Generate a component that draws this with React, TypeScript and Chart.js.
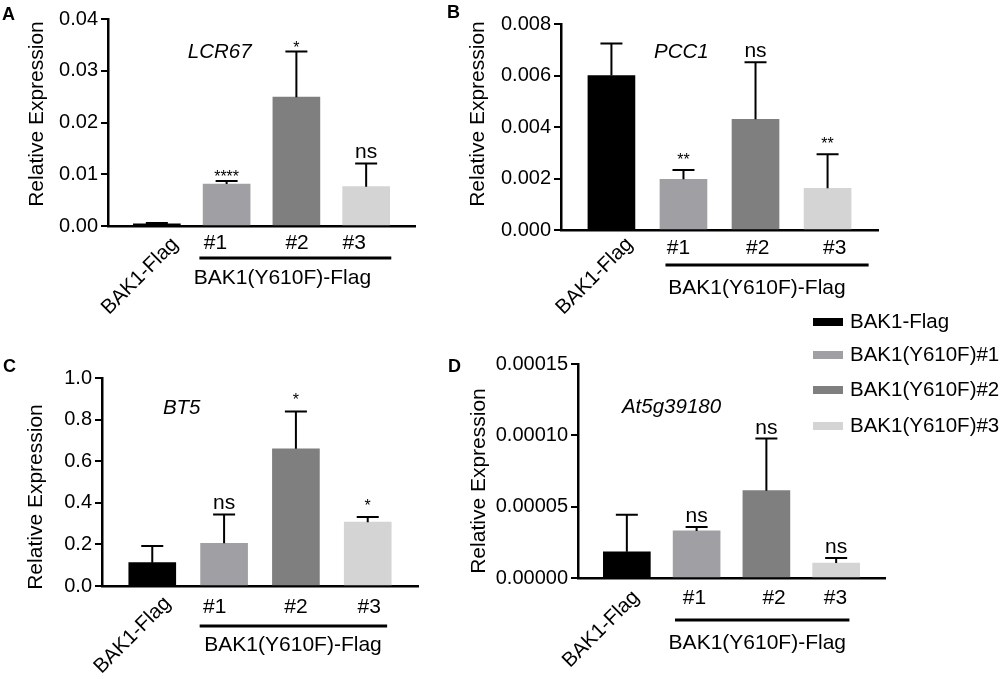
import React, { useEffect, useRef } from 'react';
import { Chart, registerables } from 'chart.js';

Chart.register(...registerables);

const FONT = "'Liberation Sans', Arial, Helvetica, sans-serif";

const categories = ['BAK1-Flag', '#1', '#2', '#3'];
const legendLabels = ['BAK1-Flag', 'BAK1(Y610F)#1', 'BAK1(Y610F)#2', 'BAK1(Y610F)#3'];
const groupLabel = 'BAK1(Y610F)-Flag';
const barColors = ['#000000', '#a09fa4', '#7f7f7f', '#d4d4d4'];

// A - LCR67
const lcr67Mean = [0.0004, 0.0081, 0.0249, 0.0076];
const lcr67Sd = [0.0002, 0.0006, 0.0088, 0.0045];
const lcr67Sig = ['', '****', '*', 'ns'];

// B - PCC1
const pcc1Mean = [0.006, 0.00197, 0.0043, 0.00162];
const pcc1Sd = [0.00124, 0.00036, 0.00221, 0.00132];
const pcc1Sig = ['', '**', 'ns', '**'];

// C - BT5
const bt5Mean = [0.112, 0.205, 0.66, 0.307];
const bt5Sd = [0.08, 0.139, 0.179, 0.025];
const bt5Sig = ['', 'ns', '*', '*'];

// D - At5g39180
const at5Mean = [0.0000184, 0.000033, 0.0000612, 0.0000105];
const at5Sd = [0.000026, 0.0000028, 0.0000365, 0.0000035];
const at5Sig = ['', 'ns', 'ns', 'ns'];

type Panel = {
    letter: string;
    gene: string;
    mean: number[];
    sd: number[];
    sig: string[];
    yMax: number;
    yStep: number;
    digits: number;
    box: { left: number; top: number; w: number; h: number };
    area: { l: number; r: number; t: number; b: number };
    genePos: [number, number];
    title: [number, number];
    letterPos: [number, number];
    numY: number;
    labelX: number[];
    lineY: number;
    line: [number, number];
    groupX: number;
    groupY: number;
    rot: [number, number];
    starLift: number;
    legend?: boolean;
};

const panels: Panel[] = [
    {
        letter: 'A', gene: 'LCR67', mean: lcr67Mean, sd: lcr67Sd, sig: lcr67Sig,
        yMax: 0.04, yStep: 0.01, digits: 2,
        box: { left: 0, top: 0, w: 440, h: 330 },
        area: { l: 108, r: 415, t: 19, b: 226 },
        genePos: [0.9, 0.0335], title: [37, 114], letterPos: [2, 20],
        numY: 17, labelX: [0.84, 2.01, 2.83], lineY: 32, line: [0.61, 3.36],
        groupX: 1.8, groupY: 52, rot: [11, 8], starLift: -1,
    },
    {
        letter: 'B', gene: 'PCC1', mean: pcc1Mean, sd: pcc1Sd, sig: pcc1Sig,
        yMax: 0.008, yStep: 0.002, digits: 3,
        box: { left: 440, top: 0, w: 560, h: 330 },
        area: { l: 121, r: 438, t: 24, b: 230 },
        genePos: [0.97, 0.0069], title: [38, 114], letterPos: [7, 18],
        numY: 18, labelX: [0.93, 2.03, 3.1], lineY: 35, line: [0.75, 3.57],
        groupX: 2.02, groupY: 58, rot: [11, 4], starLift: 5,
    },
    {
        letter: 'C', gene: 'BT5', mean: bt5Mean, sd: bt5Sd, sig: bt5Sig,
        yMax: 1.0, yStep: 0.2, digits: 1,
        box: { left: 0, top: 330, w: 440, h: 349 },
        area: { l: 102, r: 418, t: 48, b: 256 },
        genePos: [0.41, 0.854], title: [36, 167], letterPos: [3, 42],
        numY: 21, labelX: [0.87, 2.0, 3.02], lineY: 40, line: [0.66, 3.27],
        groupX: 1.96, groupY: 59, rot: [8, 7], starLift: 6,
    },
    {
        letter: 'D', gene: 'At5g39180', mean: at5Mean, sd: at5Sd, sig: at5Sig,
        yMax: 0.00015, yStep: 0.00005, digits: 5,
        box: { left: 440, top: 300, w: 560, h: 379 },
        area: { l: 138, r: 445, t: 64, b: 278 },
        genePos: [0.64, 0.00012], title: [39, 181], letterPos: [8, 72],
        numY: 20, labelX: [0.97, 2.11, 2.99], lineY: 42, line: [0.69, 3.19],
        groupX: 1.87, groupY: 65, rot: [2, 9], starLift: 5, legend: true,
    },
];

const overlay = (p: Panel) => ({
    id: 'overlay' + p.letter,
    afterDraw(chart: any) {
        const { ctx, chartArea } = chart;
        const xs = chart.scales.x;
        const ys = chart.scales.y;
        const base = chartArea.bottom;
        ctx.save();
        ctx.fillStyle = '#000';
        ctx.strokeStyle = '#000';

        // error bars + significance
        ctx.lineWidth = 2;
        p.mean.forEach((m, i) => {
            const cx = xs.getPixelForValue(i);
            const y0 = ys.getPixelForValue(m);
            const y1 = ys.getPixelForValue(m + p.sd[i]);
            ctx.beginPath();
            ctx.moveTo(cx, y0);
            ctx.lineTo(cx, y1);
            ctx.moveTo(cx - 11, y1);
            ctx.lineTo(cx + 11, y1);
            ctx.stroke();
            const s = p.sig[i];
            if (s) {
                const stars = s !== 'ns';
                ctx.font = `${stars ? 16 : 21}px ${FONT}`;
                ctx.textAlign = 'center';
                ctx.textBaseline = 'alphabetic';
                ctx.fillText(s, cx, y1 - (stars ? p.starLift : 5));
            }
        });

        // gene name
        ctx.font = `italic 20.5px ${FONT}`;
        ctx.textAlign = 'center';
        ctx.textBaseline = 'middle';
        ctx.fillText(p.gene, xs.getPixelForValue(p.genePos[0]), ys.getPixelForValue(p.genePos[1]));

        // x labels
        ctx.font = `20.5px ${FONT}`;
        ctx.save();
        ctx.translate(xs.getPixelForValue(0) + p.rot[0], base + p.rot[1]);
        ctx.rotate(-Math.PI / 4);
        ctx.textAlign = 'right';
        ctx.textBaseline = 'top';
        ctx.fillText(categories[0], 0, 0);
        ctx.restore();

        ctx.font = `21px ${FONT}`;
        ctx.textAlign = 'center';
        ctx.textBaseline = 'middle';
        for (let i = 1; i < categories.length; i++) {
            ctx.fillText(categories[i], xs.getPixelForValue(p.labelX[i - 1]), base + p.numY);
        }
        ctx.lineWidth = 3;
        ctx.beginPath();
        ctx.moveTo(xs.getPixelForValue(p.line[0]), base + p.lineY);
        ctx.lineTo(xs.getPixelForValue(p.line[1]), base + p.lineY);
        ctx.stroke();
        ctx.fillText(groupLabel, xs.getPixelForValue(p.groupX), base + p.groupY);

        // y title
        ctx.save();
        ctx.translate(p.title[0], p.title[1]);
        ctx.rotate(-Math.PI / 2);
        ctx.fillText('Relative Expression', 0, 0);
        ctx.restore();

        // panel letter
        ctx.font = `bold 18px ${FONT}`;
        ctx.textAlign = 'left';
        ctx.textBaseline = 'alphabetic';
        ctx.fillText(p.letter, p.letterPos[0], p.letterPos[1]);

        if (p.legend) {
            const rows = [22, 55, 90, 126];
            ctx.font = `20.5px ${FONT}`;
            ctx.textBaseline = 'middle';
            legendLabels.forEach((lab, i) => {
                ctx.fillStyle = barColors[i];
                ctx.fillRect(373, rows[i] - 4, 30, 8);
                ctx.fillStyle = '#000';
                ctx.fillText(lab, 410, rows[i]);
            });
        }
        ctx.restore();
    },
});

const BarPanel: React.FC<{ p: Panel }> = ({ p }) => {
    const canvasRef = useRef<HTMLCanvasElement>(null);

    useEffect(() => {
        if (!canvasRef.current) return;
        const { box, area } = p;
        const chart = new Chart(canvasRef.current, {
            type: 'bar',
            data: {
                datasets: [
                    {
                        data: p.mean.map((v, i) => ({ x: i, y: v })),
                        backgroundColor: barColors,
                        borderWidth: 0,
                        barThickness: 47,
                    },
                ],
            },
            options: {
                animation: false,
                responsive: false,
                layout: {
                    padding: { left: 0, top: area.t, right: box.w - area.r, bottom: box.h - area.b },
                },
                plugins: { legend: { display: false }, tooltip: { enabled: false } },
                scales: {
                    x: {
                        type: 'linear',
                        min: -0.7,
                        max: 3.7,
                        offset: false,
                        z: 1,
                        ticks: { display: false },
                        grid: { display: false },
                        border: { display: true, color: '#000', width: 2.5 },
                        afterFit: (s: any) => {
                            s.height = 0;
                        },
                    },
                    y: {
                        min: 0,
                        max: p.yMax,
                        z: 1,
                        ticks: {
                            stepSize: p.yStep,
                            color: '#000',
                            padding: 3,
                            font: { family: FONT, size: 20 },
                            callback: (v: any) => Number(v).toFixed(p.digits),
                        },
                        grid: { drawOnChartArea: false, color: '#000', lineWidth: 2, tickLength: 7 },
                        border: { display: true, color: '#000', width: 2.5 },
                        afterFit: (s: any) => {
                            s.width = area.l;
                        },
                    },
                },
            } as any,
            plugins: [overlay(p)],
        });
        return () => {
            chart.destroy();
        };
    }, [p]);

    return (
        <canvas
            ref={canvasRef}
            width={p.box.w}
            height={p.box.h}
            style={{
                position: 'absolute',
                left: p.box.left,
                top: p.box.top,
                width: p.box.w,
                height: p.box.h,
            }}
        />
    );
};

const App: React.FC = () => (
    <div
        style={{
            position: 'absolute',
            left: 0,
            top: 0,
            width: 1000,
            height: 679,
            background: '#fff',
            overflow: 'hidden',
        }}
    >
        {panels.map((p) => (
            <BarPanel key={p.letter} p={p} />
        ))}
    </div>
);

export default App;
